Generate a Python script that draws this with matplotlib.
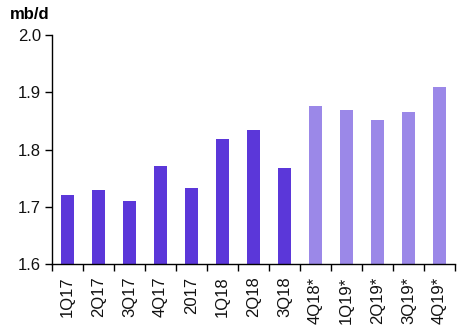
import numpy as np
import matplotlib
matplotlib.use('Agg')
import matplotlib.pyplot as plt
from matplotlib.ticker import FixedLocator, NullFormatter

plt.rcParams['font.family'] = ['Liberation Sans', 'DejaVu Sans']

#====================
# Data
#====================
categories = ['1Q17', '2Q17', '3Q17', '4Q17', '2017', '1Q18', '2Q18', '3Q18',
              '4Q18*', '1Q19*', '2Q19*', '3Q19*', '4Q19*']
values = [1.720, 1.729, 1.710, 1.771, 1.733, 1.818, 1.834, 1.768,
          1.876, 1.869, 1.852, 1.866, 1.909]
is_forecast = [c.endswith('*') for c in categories]

dark = '#5b37d9'
light = '#9b88e8'
colors = [light if f else dark for f in is_forecast]

#====================
# Plot
#====================
fig = plt.figure(figsize=(4.68, 3.31), dpi=100)
ax = fig.add_axes([0.111, 0.2024, 0.861, 0.6918])

x = np.arange(len(categories))
ax.bar(x, values, width=0.42, color=colors, zorder=2)

ax.set_ylim(1.6, 2.0)
ax.set_yticks([1.6, 1.7, 1.8, 1.9, 2.0])
ax.set_yticklabels(['1.6', '1.7', '1.8', '1.9', '2.0'])
ax.set_xlim(-0.5, len(categories) - 0.5)

# category labels in the middle, tick marks on the boundaries
ax.set_xticks(x)
ax.set_xticklabels(categories, rotation=90)
ax.tick_params(axis='x', which='major', length=0, pad=9)
ax.xaxis.set_minor_locator(FixedLocator(np.arange(-0.5, len(categories), 1.0)))
ax.xaxis.set_minor_formatter(NullFormatter())
ax.tick_params(axis='x', which='minor', length=5, width=1, direction='out', color='black')
ax.tick_params(axis='y', length=5, width=1, direction='out', pad=3)
ax.tick_params(labelsize=12, labelcolor='#111111')

for s in ['top', 'right']:
    ax.spines[s].set_visible(False)
for s in ['left', 'bottom']:
    ax.spines[s].set_linewidth(1)
    ax.spines[s].set_color('black')

fig.text(0.021, 0.955, 'mb/d', fontsize=12, fontweight='bold', ha='left', va='center')

fig.savefig('out.png', dpi=100)
